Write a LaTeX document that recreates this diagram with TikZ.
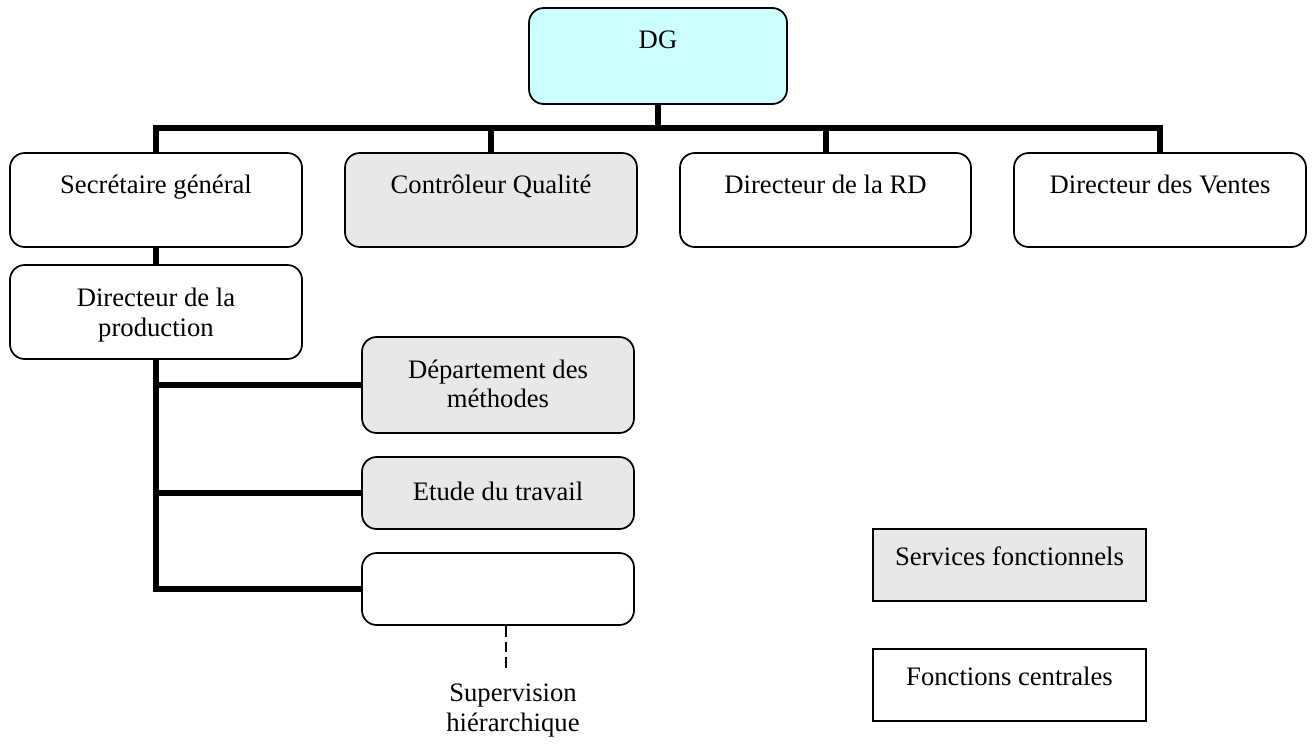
\documentclass[tikz,border=0pt]{standalone}
\usepackage{fontspec}
\setmainfont{Liberation Serif}
\usetikzlibrary{calc}
\definecolor{dgcyan}{HTML}{CCFFFF}
\definecolor{svgray}{HTML}{E8E8E8}
\begin{document}
\begin{tikzpicture}[x=0.75pt,y=-0.75pt,
  box/.style={draw=black, line width=1.3pt, rounded corners=11pt, inner sep=0pt, fill=white},
  graybox/.style={box, fill=svgray},
  sqbox/.style={draw=black, line width=1.3pt, inner sep=0pt},
  lbl/.style={font=\fontsize{20}{22}\selectfont, align=center, inner sep=0pt, anchor=north, execute at begin node=\strut},
  bus/.style={line width=4.5pt},
  guide/.style={line width=1.2pt, dash pattern=on 8pt off 3.75pt}]
\path[use as bounding box, fill=white] (0,0) rectangle (1314,747);

% boxes
\node[box, fill=dgcyan, minimum width=193.5pt, minimum height=72pt] (dg) at (658,56) {};
\node[box, minimum width=219pt, minimum height=70.5pt] (sg) at (156,200) {};
\node[graybox, minimum width=219pt, minimum height=70.5pt] (cq) at (491,200) {};
\node[box, minimum width=218.25pt, minimum height=70.5pt] (rd) at (825.5,200) {};
\node[box, minimum width=219pt, minimum height=70.5pt] (dv) at (1160,200) {};
\node[box, minimum width=219pt, minimum height=70.5pt] (dp) at (156,312) {};
\node[graybox, minimum width=204pt, minimum height=72pt] (dm) at (498,385) {};
\node[graybox, minimum width=204pt, minimum height=54pt] (et) at (498,493) {};
\node[box, minimum width=204pt, minimum height=54pt] (em) at (498,589) {};
\node[sqbox, fill=svgray, minimum width=204.75pt, minimum height=54pt] (sf) at (1009.5,565) {};
\node[sqbox, fill=white, minimum width=204.75pt, minimum height=54pt] (fc) at (1009.5,685) {};

% labels
\node[lbl] (dgt) at ($(dg.north)+(0,20.5)$) {DG};
\node[lbl] (sgt) at ($(sg.north)+(0,20.5)$) {Secrétaire général};
\node[lbl] (cqt) at ($(cq.north)+(0,20.5)$) {Contrôleur Qualité};
\node[lbl] (rdt) at ($(rd.north)+(0,20.5)$) {Directeur de la RD};
\node[lbl] (dvt) at ($(dv.north)+(0,20.5)$) {Directeur des Ventes};
\node[lbl] (dpt) at ($(dp.north)+(0,24)$) {Directeur de la\\production};
\node[lbl] (dmt) at ($(dm.north)+(0,23.5)$) {Département des\\méthodes};
\node[lbl] (ett) at ($(et.north)+(0,24)$) {Etude du travail};
\node[lbl] (sft) at ($(sf.north)+(0,16.5)$) {Services fonctionnels};
\node[lbl] (fct) at ($(fc.north)+(0,16.5)$) {Fonctions centrales};

% connectors
\coordinate (bus) at (658,128);
\draw[bus] (dg.south) -- (bus);
\draw[bus] (sg.north) -- (sg.north |- bus) -| (dv.north);
\draw[bus] (cq.north) -- (cq.north |- bus);
\draw[bus] (rd.north) -- (rd.north |- bus);
\draw[bus] (sg.south) -- (dp.north);
\draw[bus] (dp.south) |- (em.west);
\draw[bus] (dm.west) -- (dm.west -| dp.south);
\draw[bus] (et.west) -- (et.west -| dp.south);

% supervision
\coordinate (dashend) at (506,672);
\draw[guide] (em.south -| dashend) -- (dashend);
\node[lbl] (sup) at (513,684) {Supervision\\hiérarchique};
\end{tikzpicture}
\end{document}
